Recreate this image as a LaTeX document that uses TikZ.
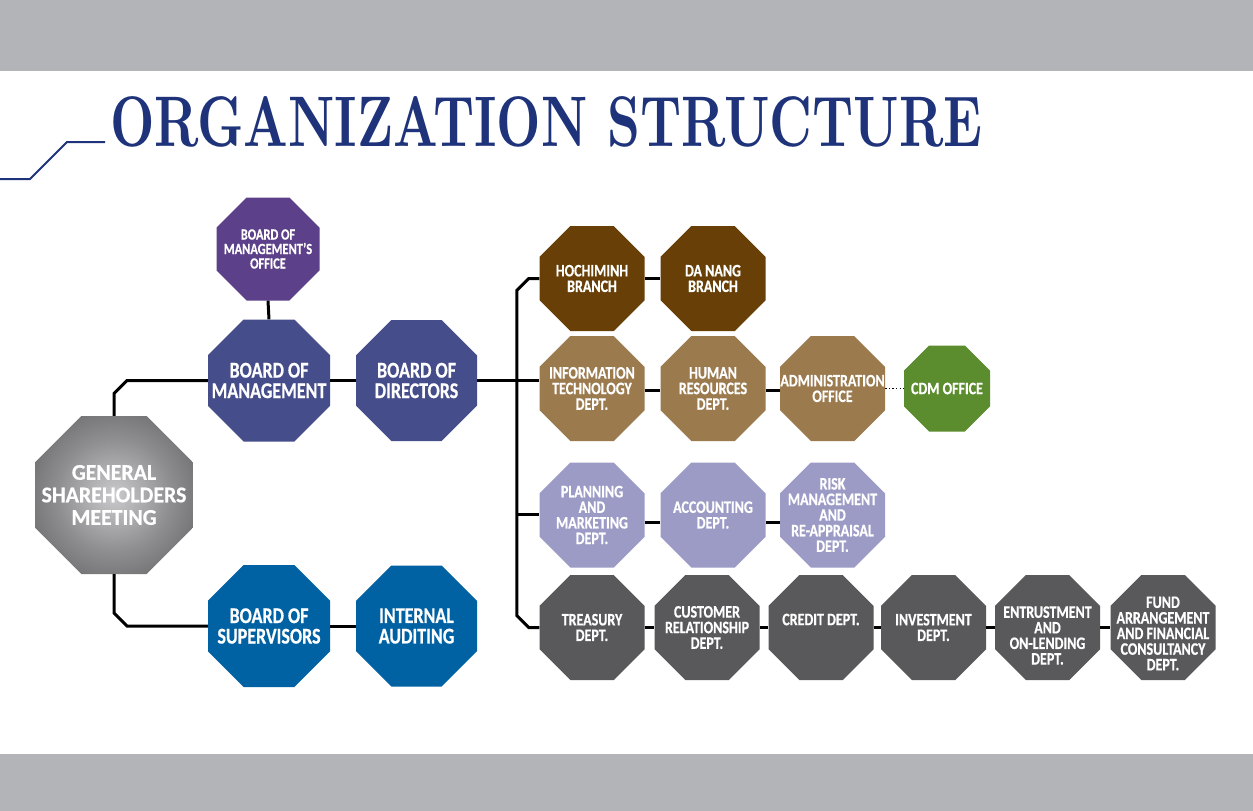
\documentclass[tikz,border=0pt]{standalone}
\usepackage{fontspec}
\usetikzlibrary{calc}
\newfontfamily\boxfont{Carlito}[FakeStretch=0.8,FakeBold=0.6]
\newfontfamily\gsmfont{Carlito}[FakeStretch=0.97,FakeBold=0.6]
\definecolor{barg}{HTML}{B3B4B7}
\definecolor{navy}{HTML}{1F337A}
\definecolor{purp}{HTML}{5C4089}
\definecolor{boardb}{HTML}{454D8B}
\definecolor{supb}{HTML}{0061A3}
\definecolor{brownD}{HTML}{673F07}
\definecolor{brownL}{HTML}{9B7A4E}
\definecolor{grn}{HTML}{5B8C2E}
\definecolor{lav}{HTML}{9C9BC6}
\definecolor{dgray}{HTML}{59595B}
\definecolor{gsmA}{HTML}{CACACC}
\definecolor{gsmB}{HTML}{8E8E90}
\definecolor{gsmC}{HTML}{5E5E60}
\pgfdeclareradialshading{gsmshade}{\pgfpoint{0bp}{0bp}}{color(0bp)=(gsmA); color(18bp)=(gsmB); color(36bp)=(gsmC); color(50bp)=(gsmC)}
\tikzset{
  conn/.style={line width=3pt, black},
  dotconn/.style={line width=1.4pt, black, dash pattern=on 1.4pt off 2.2pt},
  otext/.style={text=white, align=center, inner sep=0pt,
    font=\boxfont\bfseries\fontsize{17.5}{15.6}\selectfont},
  obig/.style={font=\boxfont\bfseries\fontsize{22.5}{20.5}\selectfont},
  ogsm/.style={font=\gsmfont\bfseries\fontsize{22.5}{22.5}\selectfont},
  ooff/.style={font=\boxfont\bfseries\fontsize{15.5}{14.5}\selectfont},
}
% #1 node options, #2 name, #3 x, #4 y, #5 flat width, #6 fill options, #7 text
\newcommand\octo[7][]{%
  \pgfmathsetmacro\octR{#5*0.5411961}%
  \path[#6,shift={(#3,#4)}] (22.5:\octR) -- (67.5:\octR) -- (112.5:\octR) -- (157.5:\octR)
     -- (202.5:\octR) -- (247.5:\octR) -- (292.5:\octR) -- (337.5:\octR) -- cycle;
  \node[otext,minimum width=#5,minimum height=#5,#1] (#2) at (#3,#4) {#7};
}
\begin{document}
\begin{tikzpicture}[x=1pt,y=-1pt]
\useasboundingbox (0,0) rectangle (1253,811);
\fill[white] (0,0) rectangle (1253,811);
\fill[barg] (0,0) rectangle (1253,71);
\fill[barg] (0,754) rectangle (1253,811);
% title
\draw[navy, line width=2pt] (0,179) -- (30,179) -- (67,142) -- (105,142);
\node[anchor=south west, inner sep=0pt, text=navy] (title) at (110,147)
  {\resizebox{872pt}{50pt}{\bfseries ORGANIZATION STRUCTURE}};
% left part
\octo[ooff]{office}{268}{249}{103}{fill=purp}{BOARD OF\\MANAGEMENT’S\\OFFICE}
\octo[obig]{bom}{269}{380.5}{122}{fill=boardb}{BOARD OF\\MANAGEMENT}
\octo[obig]{bod}{416.5}{380.5}{121}{fill=boardb}{BOARD OF\\DIRECTORS}
\octo[ogsm]{gsm}{114}{495}{158}{shade,shading=gsmshade}{GENERAL\\SHAREHOLDERS\\MEETING}
\octo[obig]{bos}{269}{626}{122}{fill=supb}{BOARD OF\\SUPERVISORS}
\octo[obig]{ia}{416.5}{626}{121}{fill=supb}{INTERNAL\\AUDITING}
% right part
\octo{hcm}{592}{278.5}{105}{fill=brownD}{HOCHIMINH\\BRANCH}
\octo{dn}{713}{278.5}{105}{fill=brownD}{DA NANG\\BRANCH}
\octo{it}{592}{388.5}{105}{fill=brownL}{INFORMATION\\TECHNOLOGY\\DEPT.}
\octo{hr}{713}{388.5}{105}{fill=brownL}{HUMAN\\RESOURCES\\DEPT.}
\octo{adm}{832.5}{388.5}{105}{fill=brownL}{ADMINISTRATION\\OFFICE}
\octo{cdm}{947}{388.5}{86}{fill=grn}{CDM OFFICE}
\octo{pl}{592}{515}{105}{fill=lav}{PLANNING\\AND\\MARKETING\\DEPT.}
\octo{acc}{713}{515}{105}{fill=lav}{ACCOUNTING\\DEPT.}
\octo{risk}{832.5}{515}{105}{fill=lav}{RISK\\MANAGEMENT\\AND\\RE-APPRAISAL\\DEPT.}
\octo{tr}{592}{627.5}{105}{fill=dgray}{TREASURY\\DEPT.}
\octo{cr}{707}{627.5}{105}{fill=dgray}{CUSTOMER\\RELATIONSHIP\\DEPT.}
\octo[yshift=8pt]{cred}{821}{627.5}{105}{fill=dgray}{CREDIT DEPT.}
\octo{inv}{933.5}{627.5}{105}{fill=dgray}{INVESTMENT\\DEPT.}
\octo[yshift=-8pt]{ent}{1047.5}{627.5}{105}{fill=dgray}{ENTRUSTMENT\\AND\\ON-LENDING\\DEPT.}
\octo[yshift=-6pt]{fund}{1163}{627.5}{105}{fill=dgray}{FUND\\ARRANGEMENT\\AND FINANCIAL\\CONSULTANCY\\DEPT.}
% connectors
\draw[conn] (office.south) -- (bom.north);
\draw[conn] (bom.west) -- ($(gsm.north |- bom.west)+(13,0)$) -- ++(-13,13) -- (gsm.north);
\draw[conn] (gsm.south) -- ($(gsm.south |- bos.west)+(0,-13)$) -- ++(13,13) -- (bos.west);
\draw[conn] (bom.east) -- (bod.west);
\draw[conn] (bos.east) -- (ia.west);
\draw[conn] (bod.east) -- (it.west |- bod.east);
\draw[conn] (hcm.west) -- ++(-10.5,0) -- ++(-12,12) -- ($(tr.west)+(-22.5,-12)$) -- ++(12,12) -- (tr.west);
\draw[conn] ($(pl.west)+(-22.5,-1)$) -- ($(pl.west)+(0,-1)$);
\draw[conn] (hcm.east) -- (dn.west);
\draw[conn] ($(it.east)+(0,1.5)$) -- ($(hr.west)+(0,1.5)$);
\draw[conn] ($(hr.east)+(0,1.5)$) -- ($(adm.west)+(0,1.5)$);
\draw[dotconn] (adm.east) -- (cdm.west);
\draw[conn] ($(pl.east)+(0,7)$) -- ($(acc.west)+(0,7)$);
\draw[conn] ($(acc.east)+(0,7)$) -- ($(risk.west)+(0,7)$);
\draw[conn] (tr.east) -- (cr.west);
\draw[conn] (cr.east) -- (cr.east -| cred.west);
\draw[conn] (cr.east -| cred.east) -- (cr.east -| inv.west);
\draw[conn] (inv.east) -- (inv.east -| ent.west);
\draw[conn] (inv.east -| ent.east) -- (inv.east -| fund.west);
\end{tikzpicture}
\end{document}
